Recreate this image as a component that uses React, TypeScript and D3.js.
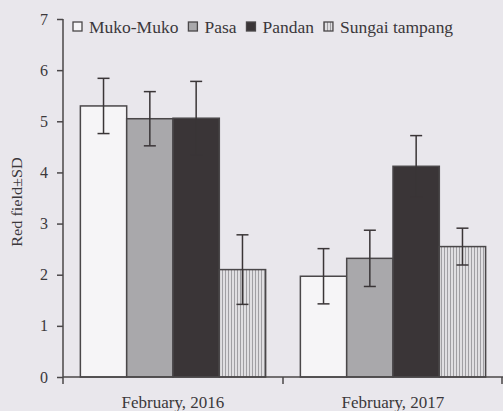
import * as d3 from 'd3';
import React, { useEffect, useRef } from 'react';

const periods = ['February, 2016', 'February, 2017'];
const sites = ['Muko-Muko', 'Pasa', 'Pandan', 'Sungai tampang'];
// mean values per site, one entry per period
const mukoMuko = [5.3, 1.97];
const pasa = [5.05, 2.32];
const pandan = [5.06, 4.12];
const sungaiTampang = [2.1, 2.55];
// standard deviations
const mukoMukoSd = [0.54, 0.54];
const pasaSd = [0.53, 0.55];
const pandanSd = [0.72, 0.6];
const sungaiTampangSd = [0.68, 0.36];
const yTicks = [0, 1, 2, 3, 4, 5, 6, 7];

const fills = ['#f6f5f7', '#a9a8ab', '#3a3537', 'url(#stripes)'];
const FONT = 'Liberation Serif';

const App = () => {
    const svgRef = useRef<SVGSVGElement | null>(null);

    useEffect(() => {
        const width = 503;
        const height = 411;
        const marginLeft = 63;
        const marginRight = 0;
        const marginTop = 19;
        const marginBottom = 34;

        const means = [mukoMuko, pasa, pandan, sungaiTampang];
        const sds = [mukoMukoSd, pasaSd, pandanSd, sungaiTampangSd];

        const rows = periods.flatMap((p, pi) =>
            sites.map((s, si) => ({
                period: p,
                site: s,
                si,
                value: means[si][pi],
                sd: sds[si][pi],
            })),
        );

        const svg = d3
            .select(svgRef.current)
            .attr('width', width)
            .attr('height', height)
            .attr('viewBox', [0, 0, width, height])
            .style('display', 'block')
            .style('position', 'absolute')
            .style('left', '0px')
            .style('top', '0px')
            .style('background', '#e9e7ec');

        svg.selectAll('*').remove();

        const defs = svg.append('defs');
        const pat = defs
            .append('pattern')
            .attr('id', 'stripes')
            .attr('patternUnits', 'userSpaceOnUse')
            .attr('width', 3)
            .attr('height', 6);
        pat.append('rect').attr('width', 3).attr('height', 6).attr('fill', '#e0dfe2');
        pat.append('rect').attr('x', 0).attr('width', 1).attr('height', 6).attr('fill', '#a09fa3');

        const x0 = d3
            .scaleBand()
            .domain(periods)
            .range([marginLeft, width - marginRight]);

        const x1 = d3
            .scaleBand()
            .domain(sites)
            .range([0, x0.bandwidth()])
            .paddingOuter(0.375)
            .paddingInner(0);

        const y = d3
            .scaleLinear()
            .domain([0, 7])
            .range([height - marginBottom, marginTop]);

        const stroke = '#4a4749';
        const textColor = '#3b383b';

        // bars
        svg.append('g')
            .selectAll('rect')
            .data(rows)
            .join('rect')
            .attr('x', (d) => x0(d.period)! + x1(d.site)!)
            .attr('y', (d) => y(d.value))
            .attr('width', x1.bandwidth())
            .attr('height', (d) => y(0) - y(d.value))
            .attr('fill', (d) => fills[d.si])
            .attr('stroke', stroke)
            .attr('stroke-width', 1.5);

        // error bars
        const eb = svg.append('g').attr('stroke', '#3a3537').attr('stroke-width', 1.5);
        rows.forEach((d) => {
            const cx = x0(d.period)! + x1(d.site)! + x1.bandwidth() / 2;
            eb.append('line')
                .attr('x1', cx)
                .attr('x2', cx)
                .attr('y1', y(d.value + d.sd))
                .attr('y2', y(d.value - d.sd));
            [d.value + d.sd, d.value - d.sd].forEach((v) => {
                eb.append('line')
                    .attr('x1', cx - 6)
                    .attr('x2', cx + 6)
                    .attr('y1', y(v))
                    .attr('y2', y(v));
            });
        });

        // y axis
        svg.append('g')
            .attr('transform', `translate(${marginLeft},0)`)
            .call(
                d3.axisLeft(y)
                    .tickValues(yTicks)
                    .tickFormat(d3.format('d'))
                    .tickSize(6)
                    .tickPadding(9)
                    .tickSizeOuter(0),
            )
            .call((g) => g.select('.domain').attr('stroke', stroke).attr('stroke-width', 1.5)
                .attr('d', `M0,${y(7)}V${y(0) + 7}`))
            .call((g) => g.selectAll('.tick line').attr('stroke', stroke).attr('stroke-width', 1.5))
            .call((g) =>
                g.selectAll('.tick text')
                    .attr('fill', textColor)
                    .attr('font-size', 16)
                    .attr('font-family', FONT),
            );

        // x axis
        svg.append('g')
            .attr('transform', `translate(0,${y(0)})`)
            .call((g) =>
                g.append('path')
                    .attr('d', `M${marginLeft},0H${width}`)
                    .attr('stroke', stroke)
                    .attr('stroke-width', 1.5),
            )
            .call((g) =>
                g.selectAll('line.sep')
                    .data([x0(periods[1])!, width - 1])
                    .join('line')
                    .attr('x1', (d) => d)
                    .attr('x2', (d) => d)
                    .attr('y1', 0)
                    .attr('y2', 7)
                    .attr('stroke', stroke)
                    .attr('stroke-width', 1.5),
            )
            .call((g) =>
                g.selectAll('text')
                    .data(periods)
                    .join('text')
                    .attr('x', (d) => x0(d)! + x0.bandwidth() / 2)
                    .attr('y', 31)
                    .attr('text-anchor', 'middle')
                    .attr('fill', textColor)
                    .attr('font-family', FONT)
                    .attr('font-size', 17)
                    .text((d) => d),
            );

        // y label
        svg.append('text')
            .attr('transform', `translate(22,${(y(0) + y(7)) / 2 + 4}) rotate(-90) scale(1.08,1)`)
            .attr('text-anchor', 'middle')
            .attr('fill', textColor)
            .attr('font-family', FONT)
            .attr('font-size', 15)
            .text('Red field±SD');

        // legend, text is a little wider in the scan
        const stretch = 1.06;
        const leg = svg.append('g');
        let lx = 73;
        sites.forEach((s, i) => {
            leg.append('rect')
                .attr('x', lx)
                .attr('y', 22)
                .attr('width', 9)
                .attr('height', 9)
                .attr('fill', fills[i])
                .attr('stroke', stroke)
                .attr('stroke-width', 1.3);
            const t = leg.append('text')
                .attr('transform', `translate(${lx + 16},33) scale(${stretch},1)`)
                .attr('fill', textColor)
                .attr('font-family', FONT)
                .attr('font-size', 16.5)
                .text(s);
            const w = (t.node() as SVGTextElement).getComputedTextLength() * stretch;
            lx += 16 + w + 10;
        });
    });

    return <svg ref={svgRef} />;
};

export default App;
